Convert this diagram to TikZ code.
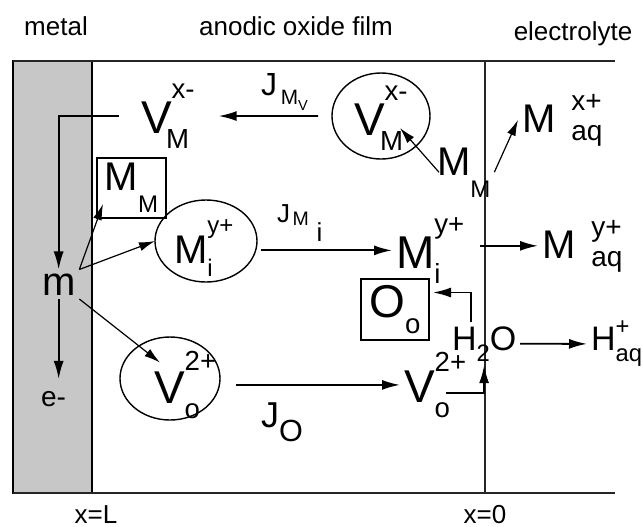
\documentclass[tikz,border=0pt]{standalone}
\usepackage{fontspec}
\setmainfont{Liberation Sans}
\usetikzlibrary{shapes.geometric,arrows.meta}
\newcommand{\spc}[5][0em]{#2\rlap{\kern#1\raisebox{-0.33em}{\scalebox{0.6}{#3}}}\raisebox{#5}{\scalebox{0.6}{#4}}}
\newcommand{\sbs}[3][0.33em]{#2\raisebox{-#1}{\scalebox{0.6}{#3}}}
\newcommand{\aqs}[2]{#1\kern0.4em\rlap{\raisebox{-0.2em}{\scalebox{0.7}{aq}}}\raisebox{0.55em}{\scalebox{0.7}{#2}}}
\begin{document}
\begin{tikzpicture}[x=0.5pt,y=-0.5pt,
  every node/.style={inner sep=0pt,outer sep=2pt},
  lbl/.style={font=\fontsize{13}{15}\selectfont,anchor=base},
  big/.style={font=\fontsize{23}{25}\selectfont,anchor=base west},
  mid/.style={font=\fontsize{20}{22}\selectfont,anchor=base west},
  sml/.style={font=\fontsize{17}{19}\selectfont,anchor=base west},
  jlab/.style={anchor=base west},
  vacancy/.style={draw,ellipse,line width=0.7pt,outer sep=0pt},
  site/.style={draw,rectangle,line width=0.7pt},
  flux/.style={line width=0.9pt,-{Latex[length=9pt,width=5pt]}},
  react/.style={line width=0.6pt,-{Latex[length=8pt,width=4.5pt]}}]
\useasboundingbox (0,0) rectangle (643,526);
\fill[black!22] (13,61) rectangle (92,493);
\draw[line width=0.8pt] (13,61) rectangle (92,493);
\draw[line width=1pt,black!85] (13,61) -- (615,61) (13,493) -- (615,493) (485,61) -- (485,493);
\node[lbl] (metal) at (56,35) {metal};
\node[lbl] (film) at (296,35) {anodic oxide film};
\node[lbl] (elyte) at (573,40) {electrolyte};
\node[lbl] (xL) at (96,523) {x=L};
\node[lbl] (x0) at (485,523) {x=0};
\node[big] (VMl) at (137,133) {\spc[-0.12em]{V}{M}{x-}{0.75em}};
\node[vacancy,minimum width=49pt,minimum height=43pt] (VMre) at (381,116) {};
\node[big] (VMr) at (350,135) {\spc[-0.1em]{V}{M}{x-}{0.75em}};
\node[site,mid,anchor=center,minimum width=34.5pt,minimum height=30pt] (MMb) at (131.5,188) {\sbs[0.55em]{M}{M}};
\node[vacancy,minimum width=51pt,minimum height=41pt] (Mie) at (206,241) {};
\node[mid] (Mi) at (170,263) {\spc{M}{i}{y+}{0.75em}};
\node[big] (Mir) at (392,268) {\spc{M}{i}{y+}{0.75em}};
\node[mid] (MMr) at (433,175) {\sbs[0.55em]{M}{M}};
\node[mid] (Maqx) at (518,132) {\aqs{M}{x+}};
\node[mid] (Maqy) at (538,258) {\aqs{M}{y+}};
\node[site,big,anchor=center,minimum width=34pt,minimum height=30.5pt] (Oob) at (395,309.5) {\sbs{O}{o}};
\node[sml] (H2O) at (448,350) {H\raisebox{-0.33em}{\scalebox{0.7}{2}}O};
\node[sml] (Hp) at (587,350) {H\rlap{\raisebox{-0.35em}{\scalebox{0.7}{aq}}}\raisebox{0.45em}{\scalebox{0.7}{+}}};
\node[vacancy,minimum width=50pt,minimum height=41.5pt] (Vole) at (170,378.5) {};
\node[big] (Vol) at (150,403) {\spc{V}{o}{2+}{0.7em}};
\node[big] (Vor) at (400,402) {\spc{V}{o}{2+}{0.66em}};
\node[mid] (m) at (38,295) {m};
\node[font=\fontsize{14}{16}\selectfont,anchor=base west] (e) at (37,406) {e-};
\node[jlab,font=\fontsize{16}{18}\selectfont] (JMv) at (257,95) {J\kern0.12em\raisebox{-0.3em}{\scalebox{0.65}{M\raisebox{-0.3em}{\scalebox{0.7}{V}}}}};
\node[jlab,font=\fontsize{13}{15}\selectfont] (JMi) at (273,222) {J\kern0.1em\raisebox{-0.12em}{\scalebox{0.75}{M}}\kern0.3em\raisebox{-0.75em}{i}};
\node[jlab,font=\fontsize{18}{20}\selectfont] (JO) at (257,427) {J\raisebox{-0.4em}{\scalebox{0.85}{O}}};
\draw[flux,shorten <=7pt,shorten >=10pt] (VMre.west) -- (VMl.east);
\draw[flux,shorten <=9pt] (VMl.west) -| (m.north);
\draw[react] (m.north east) -- ([shift={(10,-18)}]MMb.south west);
\draw[react] (m.north east) -- (Mie.west);
\draw[react] (m.south east) -- ([shift={(10,15)}]Vol.north west);
\draw[flux,shorten >=4pt] (m.south) -- (m.south |- e.north);
\draw[flux,shorten <=2pt] (Mie.east |- Mir.west) -- (Mir.west);
\draw[flux,shorten <=8pt] (Vole.east |- Vor.west) -- (Vor.west);
\draw[flux] ([shift={(-24,8)}]Vor.east) -| (H2O.south);
\draw[flux] ([xshift=-6.5pt]H2O.north) |- ([yshift=8.5pt]Oob.east);
\draw[flux] (H2O.east) -- (Hp.west);
\draw[react] ([xshift=3pt]MMr.west) -- ([shift={(19,12)}]VMre.center);
\draw[react] (MMr.east) -- (Maqx.west);
\draw[flux,shorten <=6pt] (Maqy.west -| Mir.east) -- (Maqy.west);
\end{tikzpicture}
\end{document}
